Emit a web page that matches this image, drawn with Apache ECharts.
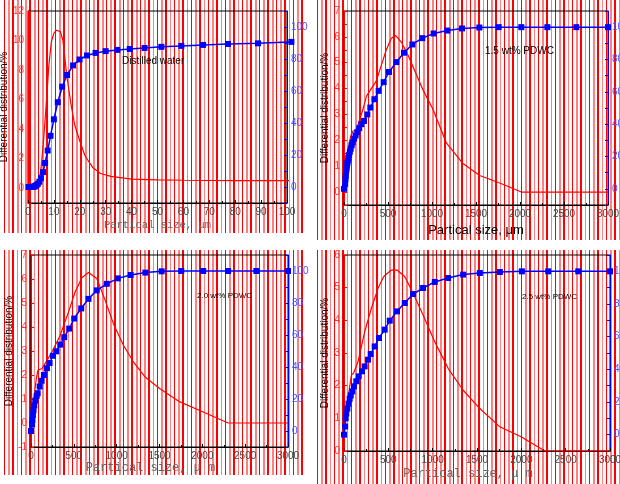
<!DOCTYPE html>
<html>
<head>
<meta charset="utf-8">
<script src="https://cdn.jsdelivr.net/npm/echarts@6/dist/echarts.min.js"></script>
<style>
  html, body { margin: 0; padding: 0; background: #fff; }
  #wrap { position: relative; width: 620px; height: 484px; overflow: hidden; }
  /* the red striped background of the scan */
  .stripes {
    position: absolute;
    background: repeating-linear-gradient(to right,
      #ff0000 0, #ff0000 1.4px, #fff 1.4px, #fff 4.2px,
      #ff8080 4.2px, #ff8080 6px, #fff 6px, #fff 8.5px);
  }
  #chart { position: absolute; left: 0; top: 0; width: 620px; height: 484px; }
</style>
</head>
<body>
<div id="wrap">
  <div class="stripes" style="left:4px;top:0;width:301px;height:233px"></div>
  <div class="stripes" style="left:317px;top:0;width:303px;height:240px"></div>
  <div class="stripes" style="left:4px;top:250px;width:300px;height:225px"></div>
  <div class="stripes" style="left:317px;top:250px;width:303px;height:234px"></div>
  <div id="chart"></div>
</div>
<script>
// distilled water
const waterDiffX = [0, 2, 3, 4, 5, 6, 7, 8, 9, 10, 11, 11.6, 12.5, 13.5, 15, 16.5, 18, 20, 22, 25, 28, 32, 40, 50, 60, 80, 101.8, 101.8]
const waterDiffY = [0, 0, 0.05, 0.3, 1.3, 3.2, 5.6, 8.2, 9.9, 10.5, 10.7, 10.75, 10.6, 10.0, 7.6, 5.8, 4.3, 3.2, 2.2, 1.4, 1.0, 0.8, 0.62, 0.56, 0.54, 0.52, 0.52, -1]
const waterCumX = [0.2, 0.5, 0.8, 1.0, 1.3, 1.6, 1.9, 2.2, 2.5, 2.9, 3.3, 3.8, 4.4, 5.0, 5.8, 6.6, 7.6, 8.7, 10.0, 11.5, 13.2, 15.1, 17.4, 19.9, 22.8, 26.1, 30.0, 34.5, 39.3, 45.0, 51.5, 59.2, 67.6, 77.2, 88.8, 101.7]
const waterCumY = [0, 0, 0, 0, 0, 0, 0.1, 0.2, 0.4, 0.7, 1.2, 2.0, 3.3, 5.5, 9.3, 15, 22.8, 32, 42.3, 53, 62.7, 70, 76, 79.7, 82.2, 83.8, 84.9, 85.7, 86.3, 86.9, 87.6, 88.2, 88.8, 89.4, 89.8, 90.7]

// 1.5 wt% PDWC
const p15DiffX = [0, 8, 15, 25, 40, 60, 80, 100, 140, 216, 254, 367, 481, 538, 587, 651, 727, 898, 1011, 1163, 1352, 1542, 1769, 2015, 3000]
const p15DiffY = [0, 1.5, 1.0, 0.8, 1.4, 1.9, 2.2, 2.35, 2.4, 3.2, 3.7, 4.3, 5.5, 5.95, 6.05, 5.8, 5.3, 3.95, 3.2, 1.9, 1.1, 0.64, 0.35, 0, 0]
const p15CumX = [0, 13, 17, 19.5, 22.3, 25.6, 29.3, 33.6, 38.5, 44, 50.6, 58, 66.5, 76, 87.5, 100, 115, 132, 151, 173, 198, 227, 265, 299, 345, 394, 451, 511, 595, 682, 777, 890, 1019, 1174, 1341, 1538, 1758, 2015, 2311, 2640, 3000]
const p15CumY = [0, 3, 6, 8, 10, 11.5, 13, 14.5, 16, 17.5, 19, 21, 23, 24.8, 27, 28.7, 31, 33, 35, 37.5, 40, 42, 46, 50.3, 55.4, 60.6, 66, 72.3, 78.4, 84.2, 89.3, 93.2, 96.1, 97.9, 99.2, 99.8, 100, 100, 100, 100, 100]

// 2.0 wt% PDWC
const p20DiffX = [0, 5, 12, 20, 40, 60, 81, 128, 186, 244, 341, 438, 516, 594, 671, 768, 865, 962, 1079, 1195, 1331, 1506, 1738, 2010, 2301, 3000]
const p20DiffY = [-1, 1.4, 0.2, 0.5, 1.2, 1.8, 2.2, 2.27, 2.6, 2.96, 3.66, 4.63, 5.47, 6.05, 6.27, 6.02, 5.12, 4.14, 3.24, 2.55, 1.92, 1.43, 0.88, 0.46, 0, 0]
const p20CumX = [0, 13, 17, 22.3, 29.3, 38.5, 50.6, 66.5, 78, 101, 124, 151, 186, 217, 256, 295, 341, 388, 446, 504, 586, 671, 768, 885, 1013, 1164, 1335, 1525, 1754, 2010, 2301, 2631, 3000]
const p20CumY = [0, 4, 7, 10, 13, 16, 19, 22, 23.6, 27.8, 31.4, 35, 39.3, 42.5, 47, 49.8, 54, 58.6, 64, 70.3, 76.6, 82.6, 87.9, 92, 95.4, 97.5, 99, 99.8, 100, 100, 100, 100, 100]

// 2.5 wt% PDWC
const p25DiffX = [0, 8, 14, 19, 30, 50, 83, 109, 158, 233, 309, 384, 448, 534, 598, 685, 779, 892, 1024, 1174, 1344, 1532, 1758, 2002, 2266, 3000]
const p25DiffY = [0, 1.0, 1.2, 0.9, 1.2, 1.7, 2.32, 2.39, 2.73, 3.65, 4.37, 4.98, 5.34, 5.54, 5.54, 5.34, 4.83, 4.16, 3.34, 2.53, 1.86, 1.3, 0.74, 0.43, 0, 0]
const p25CumX = [0, 13, 19, 25.6, 38, 50.6, 64, 76, 94, 113, 139, 166, 203, 233, 271, 301, 346, 395, 459, 516, 598, 685, 779, 892, 1024, 1174, 1344, 1532, 1758, 2006, 2303, 2642, 3000]
const p25CumY = [0, 5, 10, 13, 16, 19, 22, 24, 26.5, 29.6, 32.7, 35.7, 38.8, 41.8, 45.9, 49.4, 54, 59.2, 64.3, 69.8, 75.5, 80.6, 86.1, 89.8, 93.5, 95.9, 98, 99, 99.6, 100, 100, 100, 100]

const zip = (xs, ys) => xs.map((x, i) => [x, ys[i]])

// per panel layout
const serifName = { fontFamily: 'Liberation Mono', color: '#666' }
const panels = [
  {
    grid: { left: 28, top: 11, width: 259, height: 192 },
    xMax: 100, xStep: 10, yMin: -1, yMax: 12, yStep: 1, yShow: v => v >= 0 && v % 2 === 0,
    xName: 'Partical size, μm', xNameStyle: Object.assign({ fontSize: 10.5 }, serifName), xGap: 17,
    yGap: 12,
    note: 'Distilled water', noteX: 122, noteY: 56, noteSize: 10,
    diff: zip(waterDiffX, waterDiffY), cum: zip(waterCumX, waterCumY)
  },
  {
    grid: { left: 344, top: 11, width: 264, height: 194 },
    xMax: 3000, xStep: 500, yMin: -0.5, yMax: 7, yStep: 0.5, yShow: v => v >= 0 && v % 1 === 0,
    xName: 'Partical size, μm', xNameStyle: { fontFamily: 'Liberation Sans', fontSize: 13, color: '#000' }, xGap: 19,
    yGap: 14,
    note: '1.5 wt% PDWC', noteX: 485, noteY: 46, noteSize: 10,
    diff: zip(p15DiffX, p15DiffY), cum: zip(p15CumX, p15CumY)
  },
  {
    grid: { left: 31, top: 255, width: 257, height: 192 },
    xMax: 3000, xStep: 500, yMin: -1, yMax: 7, yStep: 1, yShow: v => true,
    xName: 'Partical size, μ m', xNameStyle: Object.assign({ fontSize: 12, padding: [0, 18, 0, 0] }, serifName), xGap: 13,
    yGap: 15,
    note: '2.0 wt% PDWC', noteX: 197, noteY: 292, noteSize: 8,
    diff: zip(p20DiffX, p20DiffY), cum: zip(p20CumX, p20CumY)
  },
  {
    grid: { left: 344, top: 255, width: 266, height: 196 },
    xMax: 3000, xStep: 500, yMin: 0, yMax: 6, yStep: 1, yShow: v => true,
    xName: 'Partical size, μ m', xNameStyle: Object.assign({ fontSize: 12, padding: [0, 18, 0, 0] }, serifName), xGap: 17,
    yGap: 14,
    note: '2.5 wt% PDWC', noteX: 522, noteY: 293, noteSize: 8,
    diff: zip(p25DiffX, p25DiffY), cum: zip(p25CumX, p25CumY)
  }
]

const chart = echarts.init(document.getElementById('chart'), null, { renderer: 'canvas' })

const grid = [], xAxis = [], yAxis = [], series = [], graphic = []

panels.forEach((p, i) => {
  grid.push(Object.assign({
    show: true, borderColor: '#000', borderWidth: 1, backgroundColor: 'transparent',
    containLabel: false, outerBoundsMode: 'none'
  }, p.grid))

  xAxis.push({
    type: 'value', gridIndex: i, min: 0, max: p.xMax, interval: p.xStep,
    axisLine: { show: true, onZero: false, lineStyle: { color: '#000', width: 1 } },
    axisTick: { show: true, inside: true, length: 3, lineStyle: { color: '#000' } },
    minorTick: { show: true, splitNumber: 2, length: 2, lineStyle: { color: '#000' } },
    axisLabel: { color: '#444', fontSize: 10, margin: 4, fontFamily: 'Liberation Sans', formatter: v => String(v) },
    splitLine: { show: false },
    name: p.xName, nameLocation: 'middle', nameGap: p.xGap, nameTextStyle: p.xNameStyle
  })

  // left: differential
  yAxis.push({
    type: 'value', gridIndex: i, position: 'left', min: p.yMin, max: p.yMax, interval: p.yStep,
    axisLine: { show: true, onZero: false, lineStyle: { color: '#ff0000', width: 1 } },
    axisTick: { show: true, inside: true, length: 3, lineStyle: { color: '#ff0000' } },
    axisLabel: { color: '#ff3333', fontSize: 10, margin: 4, fontFamily: 'Liberation Sans',
      formatter: v => p.yShow(Math.round(v * 10) / 10) ? String(Math.round(v * 10) / 10) : '' },
    splitLine: { show: false },
    name: 'Differential distribution/%', nameLocation: 'middle', nameGap: p.yGap,
    nameTextStyle: { color: '#000', fontSize: 10, fontFamily: 'Liberation Sans' }
  })

  // right: cumulative
  yAxis.push({
    type: 'value', gridIndex: i, position: 'right', min: -10, max: 110, interval: 10,
    axisLine: { show: true, onZero: false, lineStyle: { color: '#0000ff', width: 1 } },
    axisTick: { show: true, inside: true, length: 3, lineStyle: { color: '#0000ff' } },
    axisLabel: { color: '#5050ff', fontSize: 10, margin: 4, fontFamily: 'Liberation Sans',
      formatter: v => (v >= 0 && v <= 100 && v % 20 === 0) ? String(v) : '' },
    splitLine: { show: false }
  })

  series.push({
    type: 'line', xAxisIndex: i, yAxisIndex: 2 * i, data: p.diff,
    showSymbol: false, clip: false, smooth: false,
    lineStyle: { color: '#ff0000', width: 1.2 }, itemStyle: { color: '#ff0000' }, z: 3
  })
  series.push({
    type: 'line', xAxisIndex: i, yAxisIndex: 2 * i + 1, data: p.cum,
    symbol: 'rect', symbolSize: 6, clip: false,
    lineStyle: { color: '#0000ff', width: 1.5 }, itemStyle: { color: '#0000ff' }, z: 4
  })

  graphic.push({
    type: 'text', left: p.noteX, top: p.noteY, z: 10,
    style: { text: p.note, fill: '#000', font: p.noteSize + 'px "Liberation Sans"' }
  })
})

chart.setOption({
  animation: false,
  backgroundColor: 'transparent',
  grid, xAxis, yAxis, series, graphic
})
</script>
</body>
</html>
